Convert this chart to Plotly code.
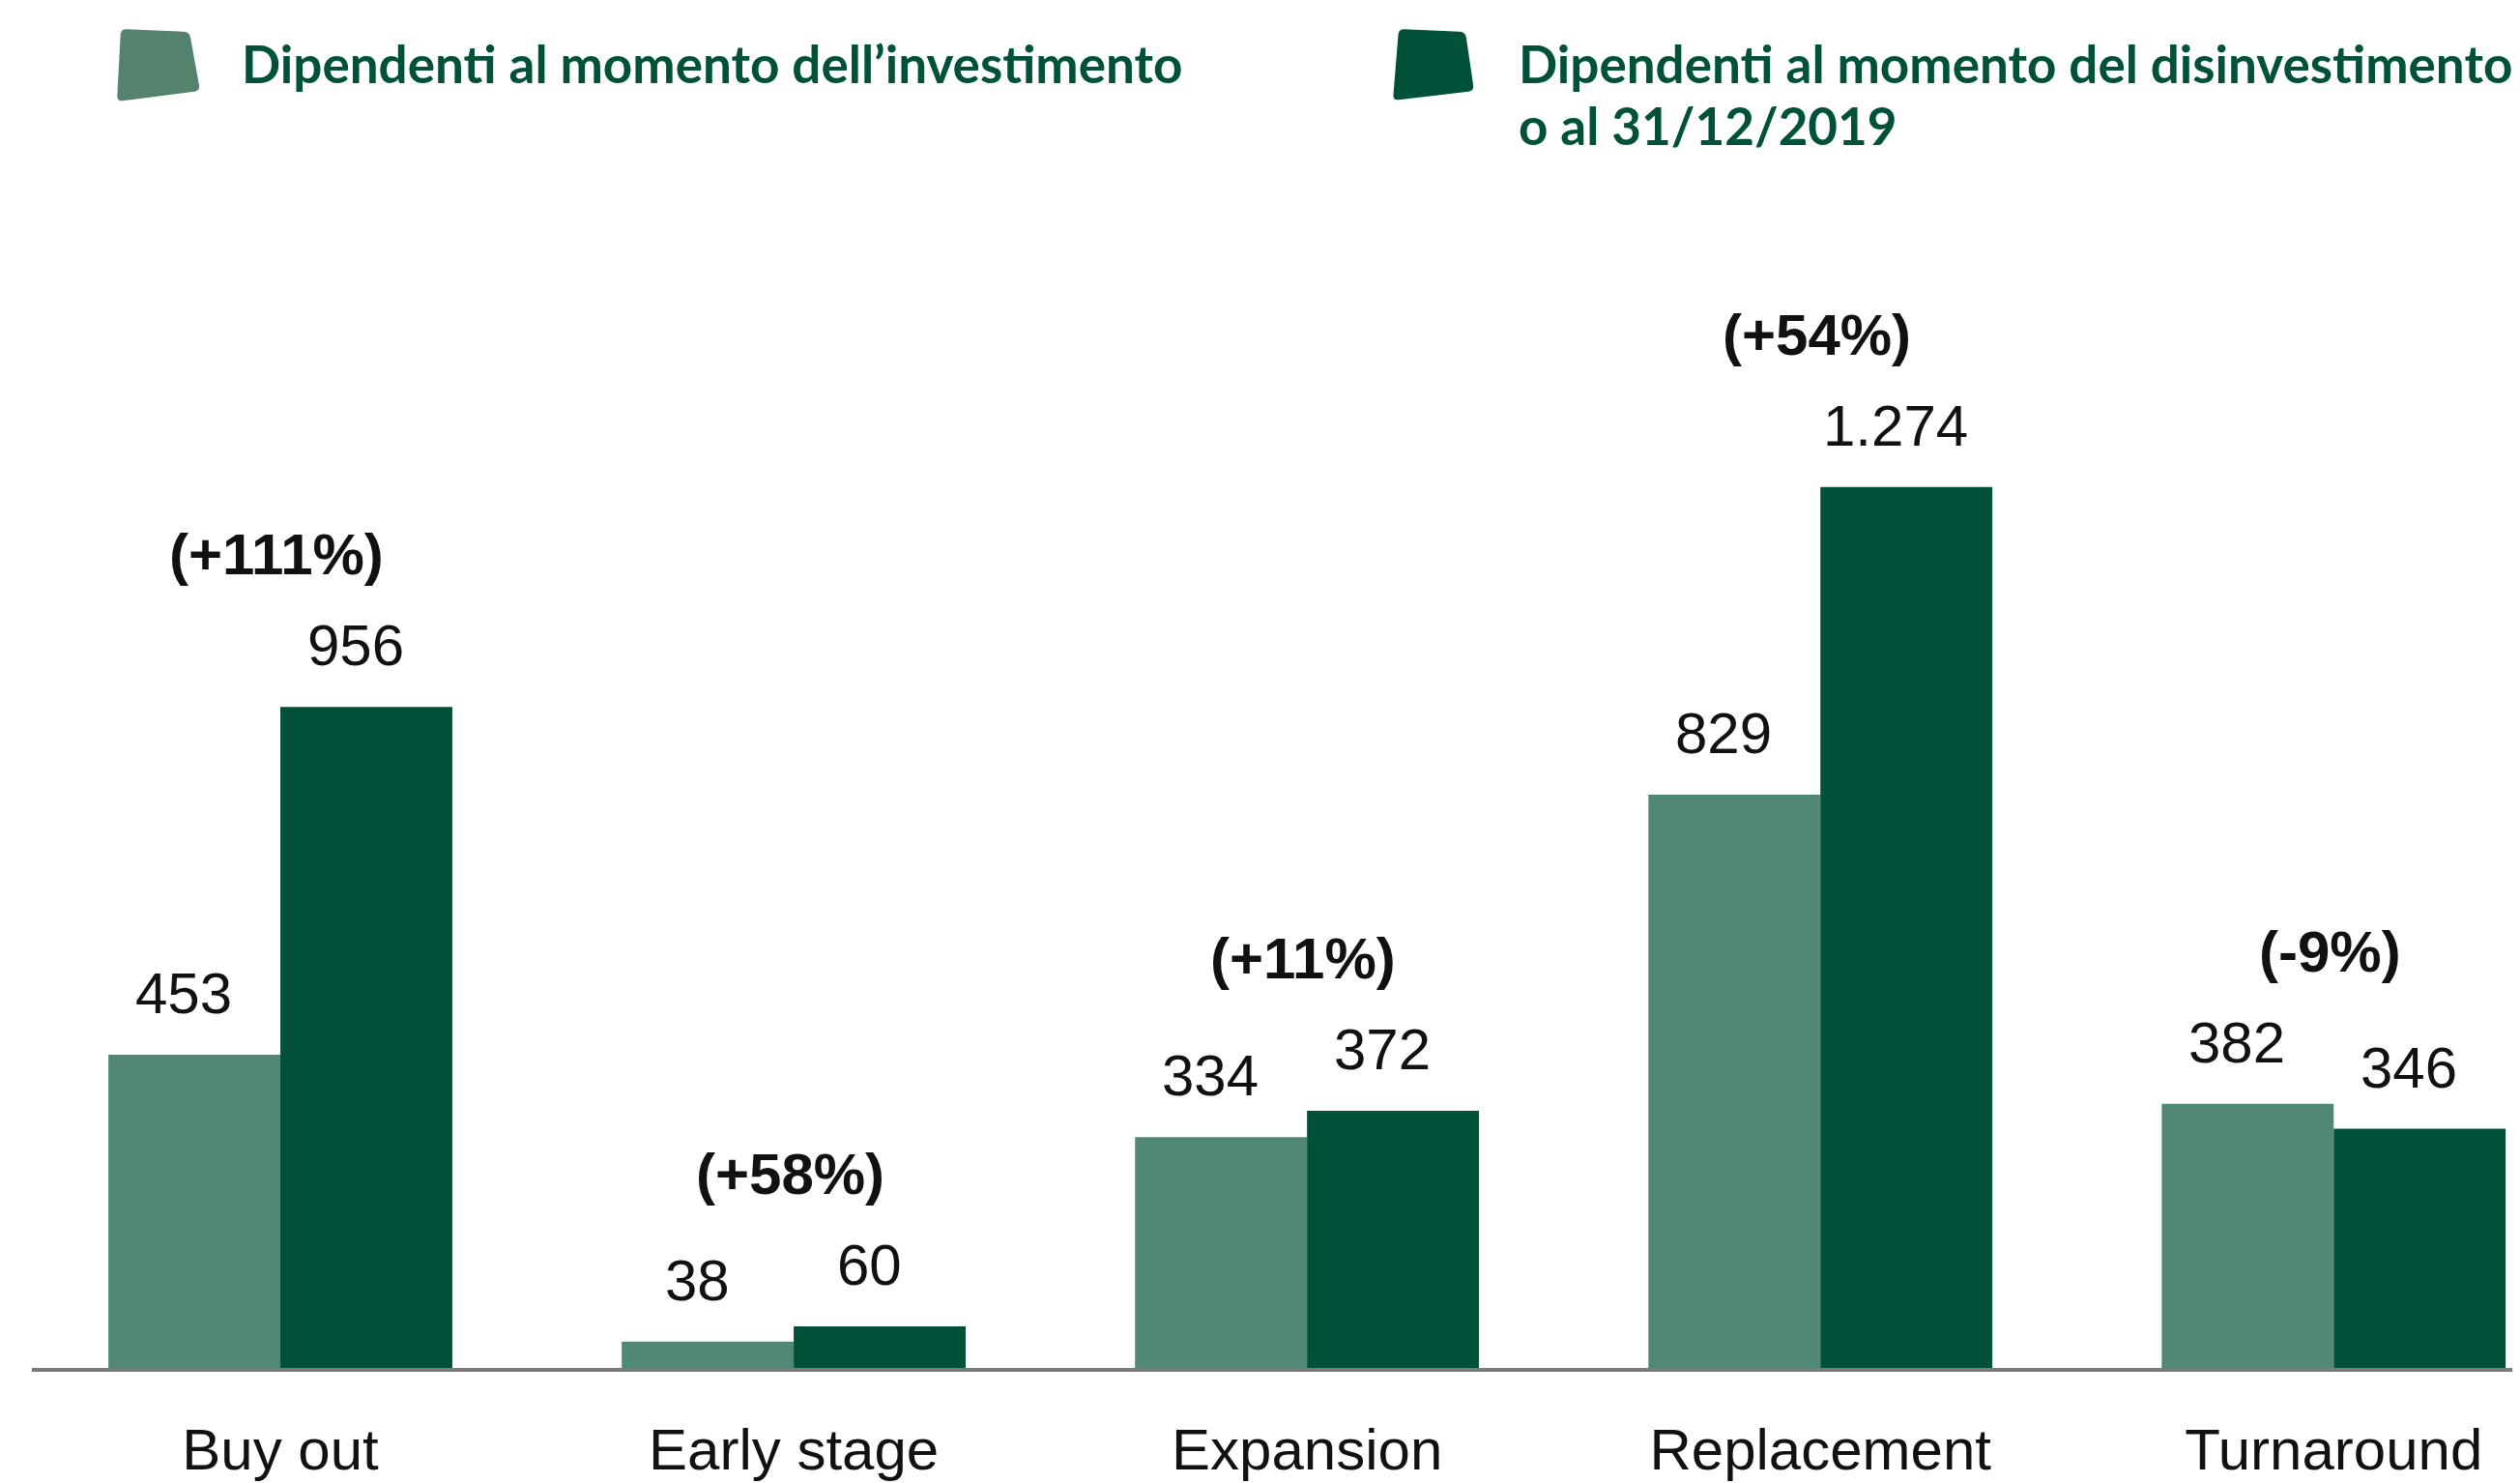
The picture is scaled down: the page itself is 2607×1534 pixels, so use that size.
import plotly.graph_objects as go

# ---- data ----
categories = ["Buy out", "Early stage", "Expansion", "Replacement", "Turnaround"]
dip_investimento = [453, 38, 334, 829, 382]
dip_disinvestimento = [956, 60, 372, 1274, 346]
labels_investimento = ["453", "38", "334", "829", "382"]
labels_disinvestimento = ["956", "60", "372", "1.274", "346"]
variazioni = ["(+111%)", "(+58%)", "(+11%)", "(+54%)", "(-9%)"]
legend_1 = "Dipendenti al momento dell’investimento"
legend_2a = "Dipendenti al momento del disinvestimento"
legend_2b = "o al 31/12/2019"

# ---- style ----
W, H = 2607, 1534
ML, MR, MT, MB = 25, 0, 144, 127
LIGHT = "#508776"
DARK = "#00513A"
LEG_LIGHT = "#53836D"
TEXT_GREEN = "#00513A"
REG = "Liberation Sans, Arial, sans-serif"
LEGFONT = "Lato, Liberation Sans, sans-serif"
BARGAP = 0.33
half = (1 - BARGAP) / 4  # offset of each bar centre from category centre


def px2paper(x, y):
    return ((x - ML) / (W - ML - MR), (H - MB - y) / (H - MT - MB))


def rounded_path(pts, r=6):
    n = len(pts)
    segs = []
    for i in range(n):
        p0 = pts[i - 1]
        p1 = pts[i]
        p2 = pts[(i + 1) % n]

        def toward(a, b, d):
            dx, dy = b[0] - a[0], b[1] - a[1]
            L = (dx * dx + dy * dy) ** 0.5
            return (a[0] + dx / L * d, a[1] + dy / L * d)
        segs.append((toward(p1, p0, r), p1, toward(p1, p2, r)))
    d = ""
    for i, (a, c, b) in enumerate(segs):
        ax, ay = px2paper(*a)
        cx, cy = px2paper(*c)
        bx, by = px2paper(*b)
        d += ("M" if i == 0 else "L") + f"{ax},{ay} Q{cx},{cy} {bx},{by} "
    return d + "Z"


fig = go.Figure()
fig.add_trace(go.Bar(x=categories, y=dip_investimento, name=legend_1,
                     marker=dict(color=LIGHT, line=dict(width=0))))
fig.add_trace(go.Bar(x=categories, y=dip_disinvestimento, name=legend_2a + " " + legend_2b,
                     marker=dict(color=DARK, line=dict(width=0))))

annotations = []
for i in range(len(categories)):
    annotations.append(dict(x=i - half, y=dip_investimento[i], xref="x", yref="y",
                            text=labels_investimento[i], showarrow=False, yanchor="bottom",
                            xshift=-11, yshift=28, font=dict(family=REG, size=60, color="#111111")))
    annotations.append(dict(x=i + half, y=dip_disinvestimento[i], xref="x", yref="y",
                            text=labels_disinvestimento[i], showarrow=False, yanchor="bottom",
                            xshift=-11, yshift=28, font=dict(family=REG, size=60, color="#111111")))
    top = max(dip_investimento[i], dip_disinvestimento[i])
    annotations.append(dict(x=i, y=top, xref="x", yref="y", text=f"<b>{variazioni[i]}</b>",
                            showarrow=False, yanchor="bottom", yshift=122, xshift=-4,
                            font=dict(family=REG, size=60, color="#111111")))

# legend texts
lx, ly = px2paper(240, 24)
annotations.append(dict(x=lx, y=ly, xref="paper", yref="paper", text=f"<b>{legend_1}</b>",
                        showarrow=False, xanchor="left", yanchor="top",
                        font=dict(family=LEGFONT, size=53, color=TEXT_GREEN)))
lx, ly = px2paper(1561, 24)
annotations.append(dict(x=lx, y=ly, xref="paper", yref="paper", text=f"<b>{legend_2a}</b>",
                        showarrow=False, xanchor="left", yanchor="top",
                        font=dict(family=LEGFONT, size=53, color=TEXT_GREEN)))
lx, ly = px2paper(1561, 88)
annotations.append(dict(x=lx, y=ly, xref="paper", yref="paper", text=f"<b>{legend_2b}</b>",
                        showarrow=False, xanchor="left", yanchor="top",
                        font=dict(family=LEGFONT, size=53, color=TEXT_GREEN)))

shapes = [
    dict(type="path", xref="paper", yref="paper", layer="above",
         path=rounded_path([(117, 22), (188, 25), (199, 86), (113, 97)]),
         fillcolor=LEG_LIGHT, line=dict(width=0)),
    dict(type="path", xref="paper", yref="paper", layer="above",
         path=rounded_path([(1439, 22), (1508, 25), (1517, 86), (1433, 96)]),
         fillcolor=DARK, line=dict(width=0)),
]

fig.update_layout(
    width=W, height=H,
    margin=dict(l=ML, r=MR, t=MT, b=MB, pad=0),
    paper_bgcolor="white", plot_bgcolor="white",
    barmode="group", bargap=BARGAP, bargroupgap=0,
    showlegend=False,
    annotations=annotations, shapes=shapes,
    xaxis=dict(range=[-0.484, 4.378], showline=True, linecolor="#7A7A7A", linewidth=4,
               ticks="", showgrid=False, zeroline=False, automargin=False,
               tickfont=dict(family=REG, size=60, color="#111111"), ticklabelstandoff=29),
    yaxis=dict(range=[0, 1766 * (H - MT - MB) / (H - 150 - 121)], visible=False,
               showgrid=False, zeroline=False),
)

fig.write_html("out.html")
